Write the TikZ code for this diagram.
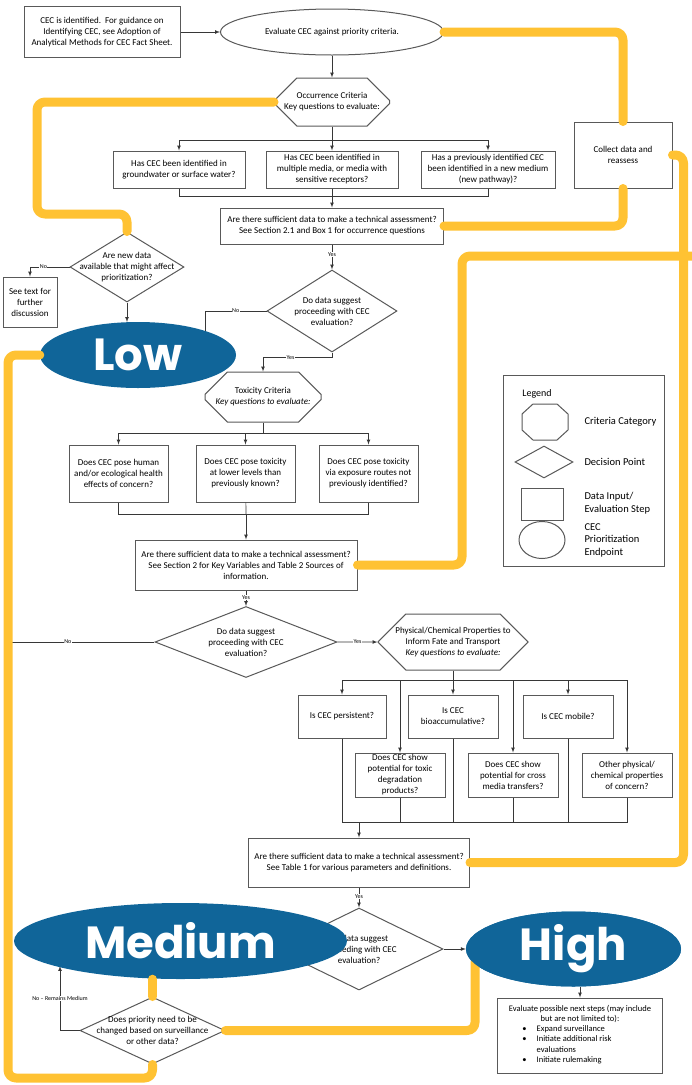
\documentclass[tikz,border=0pt]{standalone}
\usepackage{fontspec}
\setmainfont{Carlito}
\newfontfamily\blobfont{Poppins}
\usetikzlibrary{shapes.geometric,shapes.misc}
\definecolor{hlyellow}{RGB}{255,194,51}
\definecolor{blobblue}{RGB}{16,101,153}
\definecolor{lnkgray}{RGB}{55,55,55}

\begin{document}
\begin{tikzpicture}[x=1pt, y=-1pt, >={latex},
		font=\fontsize{9}{11}\selectfont,
		box/.style={draw=black!65, line width=1pt, fill=white, align=center, inner sep=1pt},
		crit/.style={chamfered rectangle, chamfered rectangle xsep=16pt, chamfered rectangle ysep=13pt, draw=black!65, line width=1pt, fill=white, align=center, inner sep=0pt},
		decide/.style={diamond, draw=black!65, line width=1pt, fill=white, align=center, inner sep=0pt},
		endpt/.style={ellipse, draw=black!65, line width=1pt, fill=white, align=center, inner sep=0pt},
		legtext/.style={anchor=west, align=left, font=\fontsize{10.5}{12.5}\selectfont},
		lnk/.style={draw=lnkgray, line width=0.7pt},
		lbl/.style={font=\fontsize{6}{6}\selectfont, fill=white, inner sep=0.5pt},
		hl/.style={draw=hlyellow, line width=9pt, line cap=round, line join=round, rounded corners=8pt},
		blob/.style={ellipse, fill=blobblue, text=white, inner sep=0pt, font=\blobfont\bfseries\fontsize{45}{45}\selectfont}]
		\useasboundingbox (0,0) rectangle (692,1085);
		
		\node[box, minimum width=156pt, minimum height=51pt] (start) at (102,32) {CEC is identified.\ \ For guidance on\\Identifying CEC, see Adoption of\\Analytical Methods for CEC Fact Sheet.};
		\node[endpt, minimum width=223pt, minimum height=46pt] (evalc) at (332,32) {Evaluate CEC against priority criteria.};
		\node[crit, minimum width=115pt, minimum height=48pt] (occ) at (332,102) {Occurrence Criteria\\Key questions to evaluate:};
		\node[box, minimum width=132pt, minimum height=37pt] (oq1) at (179,169.5) {Has CEC been identified in\\groundwater or surface water?};
		\node[box, minimum width=132pt, minimum height=37pt] (oq2) at (332,169.5) {Has CEC been identified in\\multiple media, or media with\\sensitive receptors?};
		\node[box, minimum width=134pt, minimum height=37pt] (oq3) at (488,169.5) {Has a previously identified CEC\\been identified in a new medium\\(new pathway)?};
		\node[box, minimum width=223pt, minimum height=36pt] (suff1) at (332,226) {Are there sufficient data to make a technical assessment?\\See Section 2.1 and Box 1 for occurrence questions};
		\node[box, minimum width=98pt, minimum height=66pt] (collect) at (623,155) {Collect data and\\reassess};
		
		\node[decide, aspect=1.63, inner xsep=-22pt, minimum width=114pt, minimum height=70pt] (newdata) at (127,267) {Are new data\\available that might affect\\prioritization?};
		\node[box, minimum width=54pt, minimum height=50pt] (seetext) at (30,302) {See text for\\further\\discussion};
		\node[decide, aspect=1.59, inner xsep=-3pt, minimum width=130pt, minimum height=82pt] (dec1) at (332,311) {Do data suggest\\proceeding with CEC\\evaluation?};
		
		\node[crit, minimum width=116pt, minimum height=50pt] (tox) at (263,397) {Toxicity Criteria\\\textit{Key questions to evaluate:}};
		\node[box, minimum width=99pt, minimum height=57pt] (tq1) at (118.5,473.5) {Does CEC pose human\\and/or ecological health\\effects of concern?};
		\node[box, minimum width=99pt, minimum height=57pt] (tq2) at (245.5,473.5) {Does CEC pose toxicity\\at lower levels than\\previously known?};
		\node[box, minimum width=99pt, minimum height=57pt] (tq3) at (368.5,473.5) {Does CEC pose toxicity\\via exposure routes not\\previously identified?};
		\node[box, minimum width=222pt, minimum height=50pt] (suff2) at (246,565) {Are there sufficient data to make a technical assessment?\\See Section 2 for Key Variables and Table 2 Sources of\\information.};
		\node[decide, aspect=2.56, minimum width=182pt, minimum height=71pt] (dec2) at (246,642) {Do data suggest\\proceeding with CEC\\evaluation?};
		
		\node[crit, minimum width=150pt, minimum height=56pt] (phys) at (453,642) {Physical/Chemical Properties to\\Inform Fate and Transport\\\textit{Key questions to evaluate:}};
		\node[box, minimum width=88pt, minimum height=43pt] (pa) at (342,716.5) {Is CEC persistent?};
		\node[box, minimum width=90pt, minimum height=43pt] (pb) at (453,716.5) {Is CEC\\bioaccumulative?};
		\node[box, minimum width=90pt, minimum height=43pt] (pc) at (568,716.5) {Is CEC mobile?};
		\node[box, minimum width=90pt, minimum height=44pt, inner sep=0pt] (pd) at (400,775) {Does CEC show\\potential for toxic\\degradation\\products?};
		\node[box, minimum width=90pt, minimum height=44pt] (pe) at (513,775) {Does CEC show\\potential for cross\\media transfers?};
		\node[box, minimum width=90pt, minimum height=44pt] (pf) at (627,775) {Other physical/\\chemical properties\\of concern?};
		\node[box, minimum width=221pt, minimum height=49pt] (suff3) at (359,862.5) {Are there sufficient data to make a technical assessment?\\See Table 1 for various parameters and definitions.};
		\node[decide, aspect=2.05, minimum width=168pt, minimum height=82pt] (dec3) at (359,949) {Do data suggest\\proceeding with CEC\\evaluation?};
		\node[decide, aspect=2.16, inner xsep=-20pt, minimum width=145pt, minimum height=67pt] (dec4) at (152.5,1030.5) {Does priority need to be\\changed based on surveillance\\or other data?};
		\node[box, minimum width=165pt, minimum height=75pt, font=\fontsize{8.5}{10.5}\selectfont] (next) at (580,1035.5) {Evaluate possible next steps (may include\\but are not limited to):\\
			\begin{tabular}{@{\hspace{6pt}}l@{\hspace{10pt}}l@{\hspace{32pt}}}
				\textbullet & Expand surveillance\\
				\textbullet & Initiate additional risk\\
				& evaluations\\
				\textbullet & Initiate rulemaking
		\end{tabular}};
		
		\node[box, minimum width=161pt, minimum height=191pt] (legend) at (583.5,470.5) {};
		\node[font=\fontsize{10}{12}\selectfont] (legtitle) at (537,394) {Legend};
		\coordinate (legcrit) at (545,422);
		\draw[draw=black!65, line width=1pt] (legcrit) ++(-12,-18) -- ++(24,0) -- ++(11,10) -- ++(0,16) -- ++(-11,10) -- ++(-24,0) -- ++(-11,-10) -- ++(0,-16) -- cycle;
		\node[decide, minimum width=58pt, minimum height=32pt] (legdec) at (544,462) {};
		\node[box, minimum width=42pt, minimum height=32pt] (legdata) at (542,504) {};
		\node[endpt, minimum width=46pt, minimum height=37pt] (legendpt) at (542,540) {};
		\node[legtext] (critlbl) at (581,422) {Criteria Category};
		\node[legtext] (declbl) at (581,462) {Decision Point};
		\node[legtext] (datalbl) at (581,503) {Data Input/\\Evaluation Step};
		\node[legtext] (endlbl) at (581,540) {CEC\\Prioritization\\Endpoint};
		
		\coordinate (occsplit) at (332,140);
		\coordinate (occjoin) at (332,196);
		\coordinate (lowdrop) at (205,340);
		\coordinate (toxsplit) at (263,433);
		\coordinate (toxjoin) at (246,514);
		\coordinate (nofar) at (10,642);
		\coordinate (physsplit) at (453,680);
		\coordinate (physjoin) at (359,822);
		\coordinate (remain) at (60,966);
		
		\draw[lnk,->] (start) -- (evalc);
		\draw[lnk,->] (evalc) -- (occ);
		\draw[lnk] (occ) -- (occsplit);
		\draw[lnk,->] (occsplit) -| (oq1);
		\draw[lnk,->] (occsplit) -- (oq2);
		\draw[lnk,->] (occsplit) -| (oq3);
		\draw[lnk] (oq1) |- (occjoin);
		\draw[lnk] (oq2) -- (occjoin);
		\draw[lnk] (oq3) |- (occjoin);
		\draw[lnk,->] (occjoin) -- (suff1);
		\draw[lnk,->] (suff1) -- node[lbl, pos=0.4] {Yes} (dec1);
		\draw[lnk] (dec1.west) -| node[lbl, pos=0.25] {No} (lowdrop);
		\draw[lnk,->] (dec1.south) -- ++(0,5) -| node[lbl, pos=0.3] {Yes} (tox);
		\draw[lnk,->] (newdata.west) -| node[lbl, pos=0.33] {No} (seetext);
		\draw[lnk,->] (newdata.south) -- (newdata.south |- 0,322);
		
		\draw[lnk] (tox) -- (toxsplit);
		\draw[lnk,->] (toxsplit) -| (tq1);
		\draw[lnk,->] (toxsplit) -| (tq2);
		\draw[lnk,->] (toxsplit) -| (tq3);
		\draw[lnk] (tq1) |- (toxjoin);
		\draw[lnk] (tq2) -- (toxjoin);
		\draw[lnk] (tq3) |- (toxjoin);
		\draw[lnk,->] (toxjoin) -- (suff2);
		\draw[lnk,->] (suff2) -- node[lbl, pos=0.45] {Yes} (dec2);
		\draw[lnk] (dec2) -- node[lbl, pos=0.6] {No} (nofar);
		\draw[lnk,->] (dec2) -- node[lbl] {Yes} (phys);
		
		\draw[lnk] (phys) -- (physsplit);
		\foreach \q in {pa,pb,pc,pd,pe,pf}
			\draw[lnk,->] (physsplit) -| (\q);
		\foreach \q in {pa,pb,pc,pd,pe,pf}
			\draw[lnk] (\q) |- (physjoin);
		\draw[lnk,->] (physjoin) -- (suff3);
		\draw[lnk,->] (suff3) -- node[lbl, pos=0.45] {Yes} (dec3);
		\draw[lnk,->] (dec4.west) -| node[lbl, pos=0.75] {No -- Remains Medium} (remain);
		
		\node[blob, minimum width=215pt, minimum height=75pt] (high) at (573.5,949) {High};
		\draw[lnk,->] (dec3) -- (high);
		\draw[lnk,->] (high.south -| next) -- (next);
		
		\coordinate (y4turn) at (462,256);
		\coordinate (y4out) at (696,256);
		\coordinate (y5turn) at (37,214);
		\coordinate (y6turn) at (8,1078);
		\coordinate (y8end) at (475,962);
		\draw[hl] (evalc.east) -| (collect.north);
		\draw[hl] (collect.south) |- (suff1.east);
		\draw[hl] (collect.east) -- ++(11,0) |- (suff3.east);
		\draw[hl] (suff2.east) -| (y4turn) -- (y4out);
		\draw[hl] (occ.west) -| (y5turn) -| (newdata.north);
		\draw[hl] (dec4.east) -| (y8end);
		
		\node[blob, minimum width=196pt, minimum height=66pt] (low) at (138,355) {Low};
		\node[blob, minimum width=333pt, minimum height=76pt] (medium) at (180.5,941) {Medium};
		\node[blob, minimum width=215pt, minimum height=75pt] at (high) {High};
		\draw[hl] (low.west) -| (y6turn) -| (dec4.south);
		\draw[hl] (dec4.north |- medium.south) -- (dec4.north);
	\end{tikzpicture}
\end{document}
